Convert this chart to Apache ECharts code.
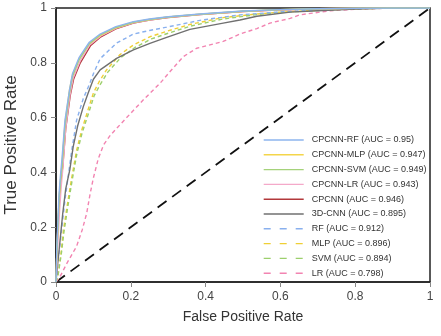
<!DOCTYPE html>
<html>
<head>
<meta charset="utf-8">
<script src="https://cdn.jsdelivr.net/npm/echarts@6/dist/echarts.min.js"></script>
<style>html,body{margin:0;padding:0;background:#fff;}#c{width:441px;height:336px;}</style>
</head>
<body>
<div id="c"></div>
<script>
// Axis ticks
const xTicks = [0, 0.2, 0.4, 0.6, 0.8, 1];
const yTicks = [0, 0.2, 0.4, 0.6, 0.8, 1];
const xTitle = 'False Positive Rate';
const yTitle = 'True Positive Rate';

// Series names (legend labels)
const names = [
  'CPCNN-RF (AUC = 0.95)',
  'CPCNN-MLP (AUC = 0.947)',
  'CPCNN-SVM (AUC = 0.949)',
  'CPCNN-LR (AUC = 0.943)',
  'CPCNN (AUC = 0.946)',
  '3D-CNN (AUC = 0.895)',
  'RF (AUC = 0.912)',
  'MLP (AUC = 0.896)',
  'SVM (AUC = 0.894)',
  'LR (AUC = 0.798)'
];

// ROC points [FPR, TPR]
const cpcnnRF = [[0,0],[0.002,0.12],[0.005,0.22],[0.008,0.32],[0.012,0.39],[0.016,0.45],[0.024,0.59],[0.036,0.7],[0.044,0.76],[0.062,0.82],[0.089,0.875],[0.118,0.905],[0.16,0.932],[0.207,0.95],[0.25,0.96],[0.3,0.968],[0.385,0.978],[0.5,0.989],[0.6,0.994],[0.7,0.997],[0.8,0.999],[0.9,1],[1,1]];
const cpcnnMLP = [[0,0],[0.002,0.1],[0.005,0.2],[0.008,0.3],[0.012,0.37],[0.016,0.43],[0.024,0.58],[0.036,0.7],[0.044,0.755],[0.062,0.815],[0.089,0.87],[0.118,0.9],[0.16,0.928],[0.207,0.948],[0.25,0.958],[0.3,0.967],[0.385,0.977],[0.5,0.988],[0.6,0.994],[0.7,0.997],[0.8,0.999],[0.9,1],[1,1]];
const cpcnnSVM = [[0,0],[0.002,0.1],[0.005,0.2],[0.008,0.3],[0.012,0.37],[0.016,0.42],[0.024,0.57],[0.036,0.69],[0.044,0.75],[0.062,0.812],[0.089,0.87],[0.118,0.902],[0.16,0.929],[0.207,0.948],[0.25,0.958],[0.3,0.967],[0.385,0.977],[0.5,0.988],[0.6,0.994],[0.7,0.997],[0.8,0.999],[0.9,1],[1,1]];
const cpcnnLR = [[0,0],[0.003,0.08],[0.006,0.17],[0.01,0.27],[0.014,0.35],[0.018,0.41],[0.026,0.56],[0.037,0.68],[0.046,0.745],[0.064,0.805],[0.09,0.865],[0.12,0.898],[0.16,0.926],[0.207,0.946],[0.25,0.956],[0.3,0.966],[0.385,0.976],[0.5,0.987],[0.6,0.993],[0.7,0.997],[0.8,0.999],[0.9,1],[1,1]];
const cpcnn = [[0,0],[0.002,0.1],[0.005,0.2],[0.009,0.3],[0.013,0.37],[0.018,0.42],[0.026,0.56],[0.038,0.68],[0.047,0.74],[0.065,0.8],[0.092,0.862],[0.12,0.895],[0.16,0.924],[0.207,0.945],[0.25,0.956],[0.3,0.965],[0.385,0.976],[0.5,0.987],[0.6,0.993],[0.7,0.997],[0.8,0.999],[0.9,1],[1,1]];
const cnn3d = [[0,0],[0.004,0.06],[0.01,0.14],[0.018,0.25],[0.026,0.34],[0.037,0.41],[0.046,0.494],[0.058,0.57],[0.073,0.64],[0.086,0.69],[0.1,0.74],[0.118,0.774],[0.162,0.816],[0.207,0.847],[0.251,0.871],[0.296,0.893],[0.358,0.922],[0.447,0.945],[0.492,0.956],[0.537,0.97],[0.626,0.985],[0.7,0.99],[0.8,0.996],[0.9,1],[1,1]];
const rf = [[0,0],[0.006,0.08],[0.015,0.19],[0.024,0.3],[0.033,0.39],[0.042,0.48],[0.055,0.59],[0.073,0.67],[0.089,0.72],[0.1,0.76],[0.118,0.815],[0.162,0.872],[0.207,0.905],[0.25,0.918],[0.296,0.93],[0.385,0.955],[0.492,0.975],[0.6,0.986],[0.7,0.993],[0.8,0.998],[0.9,1],[1,1]];
const mlp = [[0,0],[0.006,0.03],[0.013,0.1],[0.02,0.19],[0.03,0.28],[0.042,0.38],[0.055,0.48],[0.069,0.555],[0.086,0.63],[0.1,0.69],[0.115,0.73],[0.135,0.774],[0.171,0.83],[0.207,0.865],[0.251,0.895],[0.296,0.915],[0.358,0.94],[0.447,0.965],[0.537,0.978],[0.6,0.985],[0.7,0.992],[0.8,0.997],[0.9,1],[1,1]];
const svm = [[0,0],[0.006,0.03],[0.014,0.1],[0.021,0.18],[0.031,0.27],[0.043,0.37],[0.056,0.47],[0.07,0.545],[0.088,0.62],[0.102,0.68],[0.118,0.72],[0.138,0.765],[0.174,0.82],[0.21,0.855],[0.255,0.887],[0.3,0.908],[0.36,0.934],[0.447,0.96],[0.537,0.976],[0.6,0.984],[0.7,0.991],[0.8,0.997],[0.9,1],[1,1]];
const lr = [[0,0],[0.011,0.02],[0.029,0.068],[0.055,0.13],[0.07,0.19],[0.082,0.25],[0.091,0.32],[0.1,0.38],[0.113,0.45],[0.127,0.5],[0.145,0.535],[0.165,0.565],[0.189,0.6],[0.233,0.664],[0.278,0.725],[0.305,0.768],[0.34,0.822],[0.376,0.853],[0.447,0.878],[0.492,0.905],[0.537,0.925],[0.572,0.945],[0.626,0.962],[0.652,0.975],[0.733,0.99],[0.8,0.995],[0.9,1],[1,1]];
const chance = [[0,0],[1,1]];

const seriesData = [cpcnnRF, cpcnnMLP, cpcnnSVM, cpcnnLR, cpcnn, cnn3d, rf, mlp, svm, lr];
const colors = ['#8db4ee','#f4d54a','#a5d27a','#f4a9c9','#b2383b','#707070','#89b0ee','#efcf35','#9ccf6c','#f284b1'];
const dashed = [false,false,false,false,false,false,true,true,true,true];
const zs = [8,7,7,6,5,5,4,3,3,2];

const series = seriesData.map((d, i) => ({
  name: names[i],
  type: 'line',
  data: d,
  showSymbol: false,
  symbol: 'none',
  silent: true,
  z: zs[i],
  lineStyle: { color: colors[i], width: 1.4, type: dashed[i] ? [4, 3] : 'solid' },
  itemStyle: { color: colors[i] }
}));
series.push({
  name: 'chance',
  type: 'line',
  data: chance,
  showSymbol: false,
  symbol: 'none',
  silent: true,
  z: 1,
  lineStyle: { color: '#111', width: 1.8, type: [11, 7] }
});

const chart = echarts.init(document.getElementById('c'), null, { renderer: 'canvas' });
chart.setOption({
  animation: false,
  backgroundColor: '#fff',
  grid: { left: 56, right: 11, top: 8, bottom: 54, containLabel: false, outerBoundsMode: 'none', show: true, borderColor: '#222', borderWidth: 1.5, backgroundColor: 'transparent' },
  xAxis: {
    type: 'value', min: xTicks[0], max: xTicks[xTicks.length - 1], interval: 0.2,
    name: xTitle, nameLocation: 'middle', nameGap: 28,
    nameTextStyle: { fontFamily: 'Liberation Sans', fontSize: 14, color: '#333' },
    axisLine: { show: true, lineStyle: { color: '#222', width: 1.5 } },
    axisTick: { show: true, inside: false, length: 5, lineStyle: { color: '#888' } },
    axisLabel: { fontFamily: 'Liberation Sans', fontSize: 12, color: '#444', margin: 9 },
    splitLine: { show: false }
  },
  yAxis: {
    type: 'value', min: yTicks[0], max: yTicks[yTicks.length - 1], interval: 0.2,
    name: yTitle, nameLocation: 'middle', nameGap: 31,
    nameTextStyle: { fontFamily: 'Liberation Sans', fontSize: 17, color: '#333' },
    axisLine: { show: true, lineStyle: { color: '#222', width: 1.5 } },
    axisTick: { show: true, inside: false, length: 5, lineStyle: { color: '#888' } },
    axisLabel: { fontFamily: 'Liberation Sans', fontSize: 12, color: '#444', margin: 9 },
    splitLine: { show: false }
  },
  legend: {
    orient: 'vertical',
    left: 258, top: 129,
    itemWidth: 40, itemHeight: 12, itemGap: 2.8,
    selectedMode: false,
    textStyle: { fontFamily: 'Liberation Sans', fontSize: 9, color: '#333', lineHeight: 12, padding: [0, 0, 0, 3] },
    data: names.map((n, i) => ({
      name: n,
      itemStyle: { opacity: 0 },
      lineStyle: { color: colors[i], width: 1.4, type: dashed[i] ? [7, 9] : 'solid' }
    }))
  },
  series: series
});
</script>
</body>
</html>
